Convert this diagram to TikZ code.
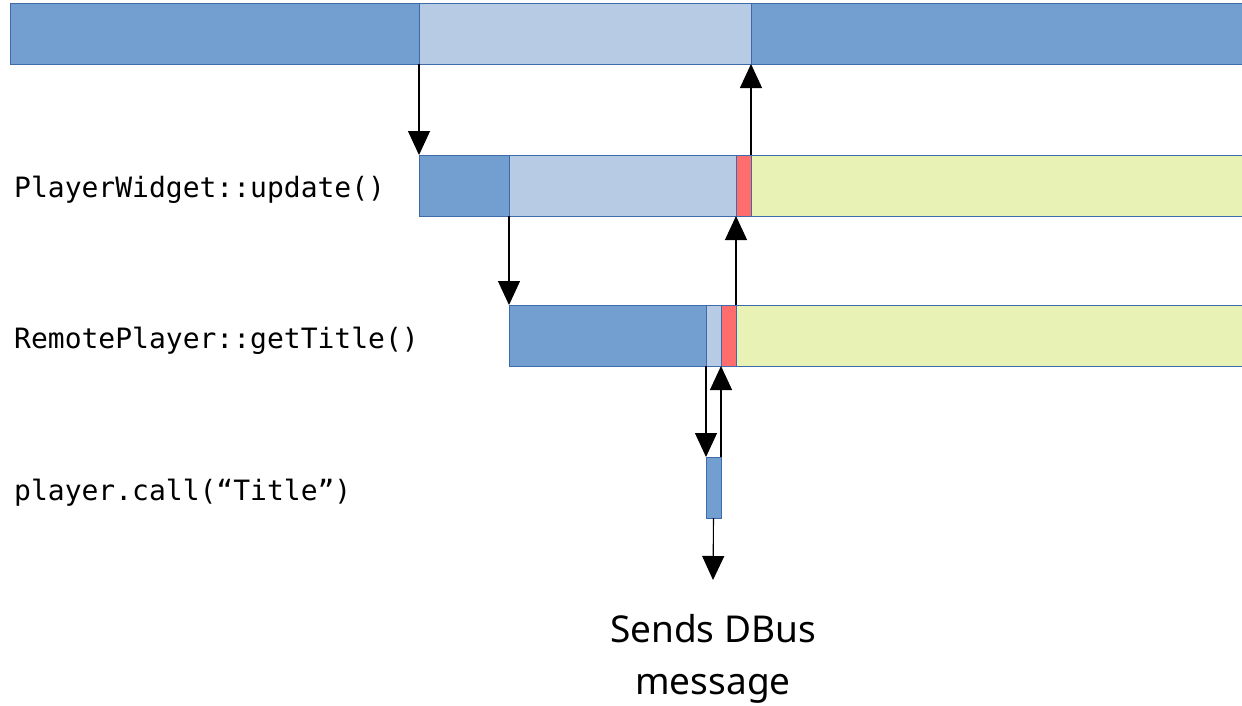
\documentclass[tikz,border=0pt]{standalone}
\usepackage{fontspec}
\setmonofont{DejaVu Sans Mono}
\newfontfamily\notefont{Noto Sans}
\usetikzlibrary{arrows.meta}
\definecolor{darkblue}{RGB}{114,159,207}
\definecolor{lightblue}{RGB}{183,204,228}
\definecolor{edgeblue}{RGB}{62,106,170}
\definecolor{busyred}{RGB}{255,109,109}
\definecolor{idleyellow}{RGB}{232,242,180}
\tikzset{
    bar/.style={draw=edgeblue, line width=0.7pt, inner sep=0, outer sep=0, anchor=north west, minimum height=61pt},
    call/.style={-{Triangle[width=22pt,length=24pt]}, line width=1.1pt},
    fname/.style={anchor=west, inner sep=0, font=\fontsize{28}{30}\ttfamily}
}
\begin{document}
\begin{tikzpicture}[x=1pt,y=-1pt]
\useasboundingbox (0,0) rectangle (1242,705);
% main loop
\node[bar, fill=darkblue, minimum width=409pt] (top1) at (10,3) {};
\node[bar, fill=lightblue, minimum width=332pt] (top2) at (419,3) {};
\node[bar, fill=darkblue, minimum width=491pt] (top3) at (751,3) {};
% PlayerWidget::update()
\node[fname] (upd) at (14,190) {PlayerWidget::update()};
\node[bar, fill=darkblue, minimum width=90pt] (upd1) at (419,155) {};
\node[bar, fill=lightblue, minimum width=227pt] (upd2) at (509,155) {};
\node[bar, fill=busyred, minimum width=15pt] (upd3) at (736,155) {};
\node[bar, fill=idleyellow, minimum width=491pt] (upd4) at (751,155) {};
% RemotePlayer::getTitle()
\node[fname] (get) at (14,341) {RemotePlayer::getTitle()};
\node[bar, fill=darkblue, minimum width=197pt] (get1) at (509,305) {};
\node[bar, fill=lightblue, minimum width=15pt] (get2) at (706,305) {};
\node[bar, fill=busyred, minimum width=15pt] (get3) at (721,305) {};
\node[bar, fill=idleyellow, minimum width=506pt] (get4) at (736,305) {};
% player.call("Title")
\node[fname] (pc) at (14,493) {player.call(“Title”)};
\node[bar, fill=darkblue, minimum width=15pt] (pc1) at (706,457) {};
% DBus
\coordinate (dbus) at (713,580);
\node[font=\notefont\fontsize{37}{52}\selectfont, align=center, anchor=north, inner sep=0] (msg) at (713,614) {Sends DBus\\message};
% calls and returns
\draw[call] (top2.south west) -- (upd1.north west);
\draw[call] (upd4.north west) -- (top3.south west);
\draw[call] (upd2.south west) -- (get1.north west);
\draw[call] (get4.north west) -- (upd3.south west);
\draw[call] (get2.south west) -- (pc1.north west);
\draw[call] (pc1.north east) -- (get3.south west);
\draw[call] (pc1.south) -- (dbus);
\end{tikzpicture}
\end{document}
